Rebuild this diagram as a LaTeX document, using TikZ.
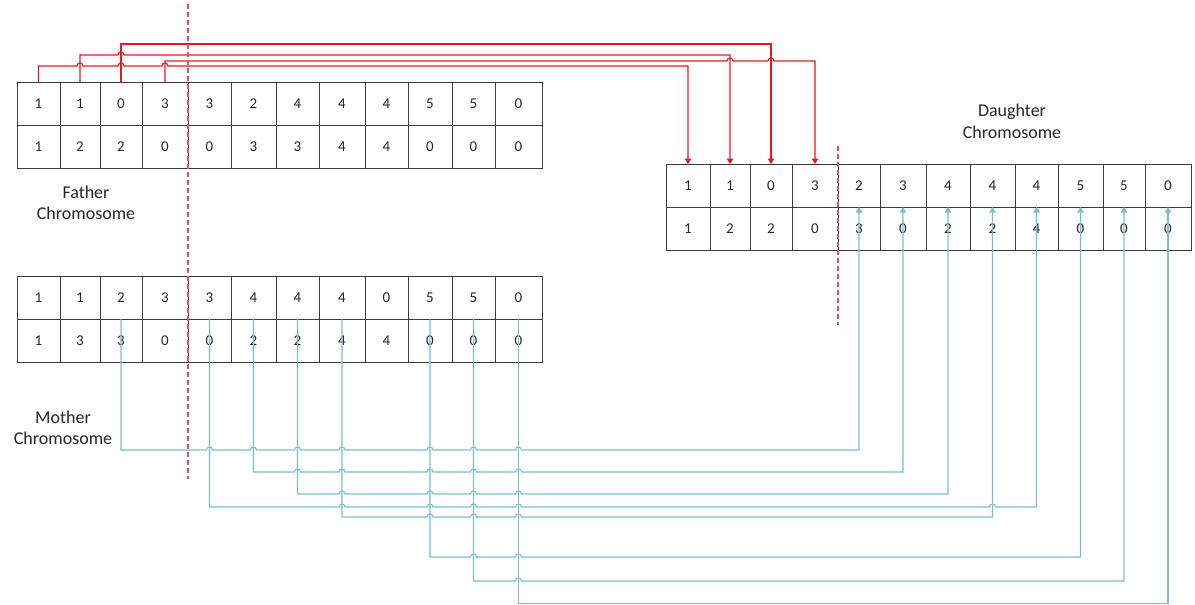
\documentclass[tikz,border=0pt]{standalone}
\usepackage{fontspec}
\setmainfont{Carlito}
\usetikzlibrary{arrows.meta,calc}
\definecolor{gridc}{RGB}{60,60,60}
\definecolor{redc}{RGB}{232,24,30}
\definecolor{dashc}{RGB}{228,80,84}
\definecolor{bluec}{RGB}{122,190,202}
\tikzset{
  gcell/.style={draw, color=gridc, line width=1pt, inner sep=0pt, outer sep=0pt,
    font=\fontsize{15}{18}\selectfont, text=black!85},
  redline/.style={draw=redc, color=redc, line width=1.1pt, -{Triangle[width=6.5pt,length=5.5pt]}},
  blueline/.style={draw=bluec, color=bluec, line width=1.1pt, -{Triangle[width=6.5pt,length=5.5pt]}},
  dashline/.style={draw=dashc, line width=1.1pt, dash pattern=on 5pt off 3pt},
  lbl/.style={align=center, font=\fontsize{18}{21.5}\selectfont, text=black!85, inner sep=0pt}
}
% connector with hops: #1 style, #2 start, #3 level, #4 hop list, #5 end
\newcommand\hopconn[5]{%
  \gdef\hoppath{}%
  \foreach \hx in {#4}{%
    \xdef\hoppath{\hoppath -- ($(\hx |- 0,#3)+(-3,0)$) arc[start angle=180,end angle=0,radius=3pt]}}%
  \draw[#1] (#2) -- (#2 |- 0,#3) \hoppath -- (#5 |- 0,#3) -- (#5);}
\newcommand\plainconn[4]{%
  \draw[#1] (#2) -- (#2 |- 0,#3) -- (#4 |- 0,#3) -- (#4);}
\begin{document}
\begin{tikzpicture}[x=1pt,y=-1pt]
\useasboundingbox (0,0) rectangle (1195,605);
% Father and Mother grids
\foreach \l/\r/\a/\b/\c/\d [count=\i] in {
  17/60/1/1/1/1, 60/100/1/2/1/3, 100/142/0/2/2/3, 142/188/3/0/3/0,
  188/231/3/0/3/0, 231/276/2/3/4/2, 276/319/4/3/4/2, 319/365/4/4/4/4,
  365/408/4/4/0/4, 408/452/5/0/5/0, 452/495/5/0/5/0, 495/542/0/0/0/0}{
  \node[gcell, minimum width={(\r-\l)*1pt}, minimum height=43pt] (ft\i) at ({(\l+\r)/2},103.5) {\a};
  \node[gcell, minimum width={(\r-\l)*1pt}, minimum height=43pt] (fb\i) at ({(\l+\r)/2},146.5) {\b};
  \node[gcell, minimum width={(\r-\l)*1pt}, minimum height=43pt] (mt\i) at ({(\l+\r)/2},297.5) {\c};
  \node[gcell, minimum width={(\r-\l)*1pt}, minimum height=43pt] (mb\i) at ({(\l+\r)/2},340.5) {\d};
}
% Daughter grid
\foreach \l/\r/\a/\b [count=\i] in {
  666/710/1/1, 710/750/1/2, 750/792/0/2, 792/838/3/0,
  838/880/2/3, 880/926/3/0, 926/970/4/2, 970/1015/4/2,
  1015/1058/4/4, 1058/1103/5/0, 1103/1145/5/0, 1145/1191/0/0}{
  \node[gcell, minimum width={(\r-\l)*1pt}, minimum height=43pt] (dt\i) at ({(\l+\r)/2},185.5) {\a};
  \node[gcell, minimum width={(\r-\l)*1pt}, minimum height=43pt] (db\i) at ({(\l+\r)/2},228.5) {\b};
}
% Labels
\node[lbl] (flbl) at (86,203) {Father\\Chromosome};
\node[lbl] (mlbl) at (63,428) {Mother\\Chromosome};
\node[lbl] (dlbl) at (1012,121.5) {Daughter\\Chromosome};
% Red connectors (father -> daughter)
\hopconn{redline}{ft1.north}{66}{ft2.north,ft3.north,ft4.north}{dt1.north}
\hopconn{redline}{ft2.north}{55}{ft3.north}{dt2.north}
\plainconn{redline}{ft3.north}{44}{dt3.north}
\hopconn{redline}{ft4.north}{61}{dt2.north,dt3.north}{dt4.north}
% Crossover lines
\draw[dashline] (188,4) -- (188,479);
\draw[dashline] (838,146) -- (838,325);
% Blue connectors (mother -> daughter)
\hopconn{blueline}{mt3.south}{450}{mt5.south,mt6.south,mt7.south,mt8.south,mt10.south,mt11.south,mt12.south}{db5.north}
\hopconn{blueline}{mt6.south}{472}{mt7.south,mt8.south,mt10.south,mt11.south,mt12.south}{db6.north}
\hopconn{blueline}{mt7.south}{494}{mt8.south,mt10.south,mt11.south,mt12.south}{db7.north}
\hopconn{blueline}{mt5.south}{507}{mt8.south,mt10.south,mt11.south,mt12.south,db8.north}{db9.north}
\hopconn{blueline}{mt8.south}{517}{mt10.south,mt11.south,mt12.south}{db8.north}
\hopconn{blueline}{mt10.south}{557}{mt11.south,mt12.south}{db10.north}
\hopconn{blueline}{mt11.south}{581}{mt12.south}{db11.north}
\plainconn{blueline}{mt12.south}{603.5}{db12.north}
\end{tikzpicture}
\end{document}
